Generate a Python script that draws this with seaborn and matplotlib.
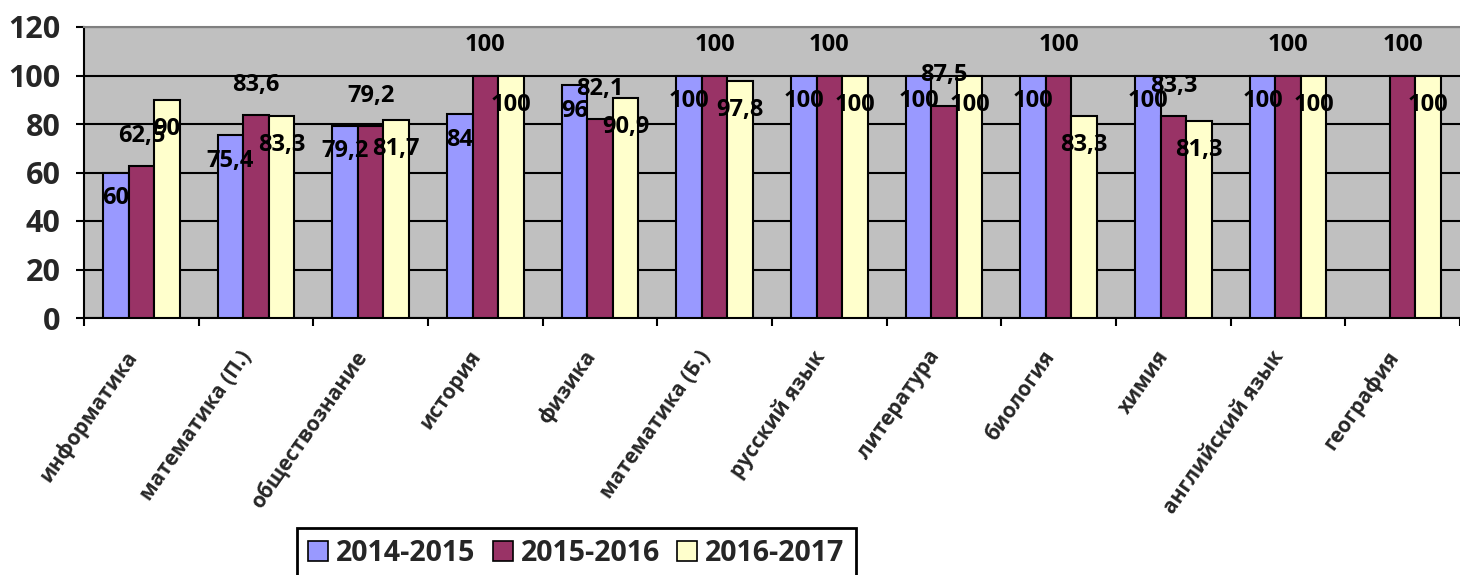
import matplotlib
matplotlib.use("Agg")
import matplotlib.pyplot as plt
import matplotlib.transforms as mtransforms
import numpy as np
import pandas as pd
import seaborn as sns
from matplotlib.patches import Patch
from matplotlib.ticker import FixedLocator, MultipleLocator

subjects = ['информатика', 'математика (П.)', 'обществознание', 'история', 'физика',
            'математика (Б.)', 'русский язык', 'литература', 'биология', 'химия',
            'английский язык', 'география']
years = ['2014-2015', '2015-2016', '2016-2017']
y2014 = [60, 75.4, 79.2, 84, 96, 100, 100, 100, 100, 100, 100, np.nan]
y2015 = [62.5, 83.6, 79.2, 100, 82.1, 100, 100, 87.5, 100, 83.3, 100, 100]
y2016 = [90, 83.3, 81.7, 100, 90.9, 97.8, 100, 100, 83.3, 81.3, 100, 100]

colors = ['#9999FF', '#993366', '#FFFFCC']
# vertical shift of each series' value labels (in data units)
label_shift = [-10.5, 12.5, -12]

df = pd.DataFrame({
    'subject': subjects * 3,
    'year': np.repeat(years, len(subjects)),
    'value': y2014 + y2015 + y2016,
})

sns.set_theme(style='white')
plt.rcParams['font.family'] = ['Open Sans', 'DejaVu Sans']
plt.rcParams['font.weight'] = 'bold'

fig = plt.figure(figsize=(14.6, 5.75), dpi=100)
ax = fig.add_axes([84 / 1460, 1 - 318 / 575, 1 - 84 / 1460, (318 - 27) / 575])
ax.set_facecolor('#C0C0C0')

group_w = 0.667
sns.barplot(data=df, x='subject', y='value', hue='year', palette=colors,
            width=group_w, edgecolor='black', linewidth=1.5, saturation=1,
            legend=False, ax=ax, zorder=3)

bar_w = group_w / 3
for j, vals in enumerate([y2014, y2015, y2016]):
    for i, v in enumerate(vals):
        if np.isnan(v):
            continue
        txt = f'{v:g}'.replace('.', ',')
        ax.text(i + (j - 1) * bar_w, v + label_shift[j], txt, ha='center', va='center',
                fontsize=17, fontweight='bold', color='black', zorder=5)

ax.set_xlim(-0.5, len(subjects) - 0.5)
ax.set_ylim(0, 120)
ax.yaxis.set_major_locator(MultipleLocator(20))
ax.yaxis.grid(True, color='black', linewidth=1.5)
ax.set_axisbelow(True)
ax.set_xlabel('')
ax.set_ylabel('')

ax.xaxis.set_minor_locator(FixedLocator(np.arange(-0.5, len(subjects), 1)))
ax.tick_params(axis='x', which='major', length=0, pad=25, labelsize=15)
ax.tick_params(axis='x', which='minor', bottom=True, length=6, width=1.5, color='black')
ax.tick_params(axis='y', left=True, length=6, width=1.5, color='black', labelsize=22, pad=11)
plt.setp(ax.get_xticklabels(), rotation=55, ha='right', va='center',
         rotation_mode='anchor', fontweight='bold')
plt.setp(ax.get_yticklabels(), fontweight='bold')
shift = mtransforms.ScaledTranslation(-6 / 72, 0, fig.dpi_scale_trans)
for lbl in ax.get_xticklabels():
    lbl.set_transform(lbl.get_transform() + shift)

for side in ['left', 'bottom']:
    ax.spines[side].set_color('black')
    ax.spines[side].set_linewidth(1.5)
ax.spines['top'].set_color('#808080')
ax.spines['top'].set_linewidth(1.5)
ax.spines['right'].set_visible(False)

handles = [Patch(facecolor=c, edgecolor='black', linewidth=1.2) for c in colors]
leg = fig.legend(handles, years, loc='upper left', bbox_to_anchor=(297 / 1460, 1 - 528 / 575),
                 ncol=3, fontsize=20.5, handlelength=0.7, handleheight=0.7,
                 handletextpad=0.28, columnspacing=0.6, borderpad=0.4,
                 borderaxespad=0, fancybox=False, framealpha=1, edgecolor='black')
leg.get_frame().set_linewidth(2)
for t in leg.get_texts():
    t.set_fontweight('bold')

fig.savefig('out.png', dpi=100)
